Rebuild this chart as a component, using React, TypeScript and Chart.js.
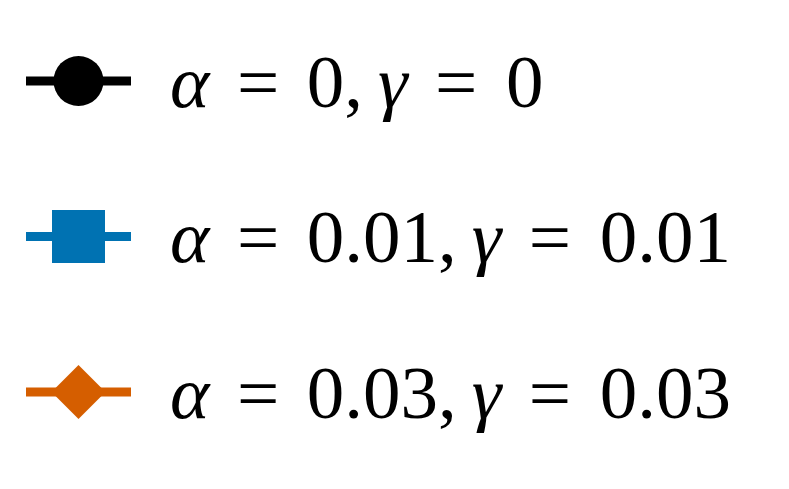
import { useEffect, useRef } from "react";
import { Chart, registerables } from "chart.js";

Chart.register(...registerables);

// legend entries: parameter values, colours and marker styles
const alphaValues = ["0", "0.01", "0.03"];
const gammaValues = ["0", "0.01", "0.03"];
const seriesColors = ["#000000", "#0072B2", "#D55E00"];
const seriesMarkers = ["circle", "rect", "rectRot"];

// row geometry of the legend (handle centre y, text baseline = centre + 26)
const FIRST_ROW = 81;
const ROW_GAP = 155.5;
// labels are set at 30px and scaled up 2.5x
const BASE_SIZE = 30;
const SCALE = 2.5;
const BASELINE_IN_LINE = 25.1;

function drawMarker(ctx: CanvasRenderingContext2D, style: string, x: number, y: number) {
  ctx.beginPath();
  if (style === "circle") {
    ctx.arc(x, y, 25, 0, Math.PI * 2);
  } else if (style === "rect") {
    ctx.rect(x - 26.5, y - 26.5, 53, 53);
  } else {
    ctx.moveTo(x, y - 27);
    ctx.lineTo(x + 27, y);
    ctx.lineTo(x, y + 27);
    ctx.lineTo(x - 27, y);
    ctx.closePath();
  }
  ctx.fill();
}

// draws the legend handles (line + marker) from the datasets
const legendHandles = {
  id: "legendHandles",
  afterDraw(chart: Chart) {
    const ctx = chart.ctx;
    ctx.save();
    chart.data.datasets.forEach((ds: any, i: number) => {
      const cy = FIRST_ROW + i * ROW_GAP;
      ctx.strokeStyle = ds.borderColor;
      ctx.fillStyle = ds.backgroundColor;
      ctx.lineWidth = ds.borderWidth;
      ctx.lineCap = "butt";
      ctx.beginPath();
      ctx.moveTo(26, cy);
      ctx.lineTo(131, cy);
      ctx.stroke();
      drawMarker(ctx, ds.pointStyle, 78.5, cy);
    });
    ctx.restore();
  },
};

function MathLabel({ a, g }: { a: string; g: string }) {
  return (
    <span>
      <i>α</i>
      <span style={{ marginLeft: 11 }}>=</span>
      <span style={{ marginLeft: 11 }}>{a},</span>
      <i style={{ marginLeft: 6 }}>γ</i>
      <span style={{ marginLeft: 11 }}>=</span>
      <span style={{ marginLeft: 11.5 }}>{g}</span>
    </span>
  );
}

export default function App() {
  const canvasRef = useRef<HTMLCanvasElement | null>(null);

  useEffect(() => {
    document.body.style.margin = "0";
    if (!canvasRef.current) return;
    const chart = new Chart(canvasRef.current, {
      type: "line",
      data: {
        labels: [],
        datasets: alphaValues.map((a, i) => ({
          label: `α = ${a}, γ = ${gammaValues[i]}`,
          data: [],
          borderColor: seriesColors[i],
          backgroundColor: seriesColors[i],
          borderWidth: 9,
          pointStyle: seriesMarkers[i],
          pointRadius: 26,
        })),
      },
      options: {
        responsive: false,
        animation: false,
        layout: { padding: 0 },
        scales: {
          x: { display: false },
          y: { display: false },
        },
        plugins: {
          legend: { display: false },
          tooltip: { enabled: false },
        },
      },
      plugins: [legendHandles],
    });
    return () => chart.destroy();
  }, []);

  return (
    <div style={{ width: 789, height: 489, background: "#ffffff", position: "relative", overflow: "hidden" }}>
      <canvas ref={canvasRef} width={789} height={489} style={{ position: "absolute", left: 0, top: 0 }} />
      {alphaValues.map((a, i) => (
        <span
          key={a}
          style={{
            position: "absolute",
            left: 170,
            top: FIRST_ROW + i * ROW_GAP + 26 - BASELINE_IN_LINE,
            fontFamily: "Liberation Serif",
            fontSize: BASE_SIZE,
            lineHeight: `${BASE_SIZE}px`,
            whiteSpace: "nowrap",
            transform: `scale(${SCALE})`,
            transformOrigin: `0 ${BASELINE_IN_LINE}px`,
          }}
        >
          <MathLabel a={a} g={gammaValues[i]} />
        </span>
      ))}
    </div>
  );
}
